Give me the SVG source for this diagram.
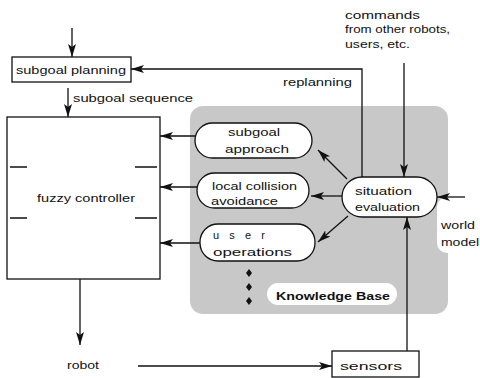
<svg xmlns="http://www.w3.org/2000/svg" width="480" height="378" viewBox="0 0 480 378">
<defs>
<style>
text{font-family:"Liberation Sans",Arial,sans-serif;font-size:11px;fill:#111}
.box{fill:#fff;stroke:#111;stroke-width:1.3}
.ln{fill:none;stroke:#111;stroke-width:1.3}
</style>
<marker id="ah" viewBox="0 0 13 10" refX="13" refY="5" markerWidth="13" markerHeight="10" markerUnits="userSpaceOnUse" orient="auto">
<path d="M0,1 L13,5 L0,9 L3,5 Z" fill="#111"/>
</marker>
</defs>
<rect width="480" height="378" fill="#fff"/>
<g id="knowledge-base">
<rect x="190" y="106" width="258" height="208" rx="13" fill="#c8c8c8"/>
<rect x="437" y="197" width="50" height="56" rx="10" fill="#fff"/>
<rect x="267" y="283" width="130" height="22" rx="11" fill="#fff"/>
<text x="276" y="300" textLength="114" lengthAdjust="spacingAndGlyphs" font-weight="bold">Knowledge Base</text>
<g fill="#111">
<path d="M249,269 L252,273 L249,277 L246,273 Z"/>
<path d="M249,283 L252,287 L249,291 L246,287 Z"/>
<path d="M249,297 L252,301 L249,305 L246,301 Z"/>
</g>
</g>
<g id="connectors">
<path class="ln" d="M72,28 V57" marker-end="url(#ah)"/>
<path class="ln" d="M68,88 V117" marker-end="url(#ah)"/>
<path class="ln" d="M362,178 V69 H131" marker-end="url(#ah)"/>
<path class="ln" d="M404,63 V177" marker-end="url(#ah)"/>
<path class="ln" d="M196,136 H160" marker-end="url(#ah)"/>
<path class="ln" d="M197,187 H160" marker-end="url(#ah)"/>
<path class="ln" d="M200,243 H160" marker-end="url(#ah)"/>
<path class="ln" d="M347,179 L318,150" marker-end="url(#ah)"/>
<path class="ln" d="M342,196 H311" marker-end="url(#ah)"/>
<path class="ln" d="M348,216 L318,242" marker-end="url(#ah)"/>
<path class="ln" d="M465,197 H437" marker-end="url(#ah)"/>
<path class="ln" d="M407,351 V217" marker-end="url(#ah)"/>
<path class="ln" d="M80,279 V345" marker-end="url(#ah)"/>
<path class="ln" d="M138,366 H332" marker-end="url(#ah)"/>
</g>
<g id="subgoal-planning">
<rect class="box" x="12" y="57" width="119" height="25"/>
<text x="16" y="74" textLength="110" lengthAdjust="spacingAndGlyphs">subgoal planning</text>
</g>
<text x="73" y="102" textLength="120" lengthAdjust="spacingAndGlyphs">subgoal sequence</text>
<text x="283" y="86" textLength="69" lengthAdjust="spacingAndGlyphs">replanning</text>
<g id="commands-label">
<text x="345" y="19" textLength="75" lengthAdjust="spacingAndGlyphs">commands</text>
<text x="345" y="33" textLength="105" lengthAdjust="spacingAndGlyphs">from other robots,</text>
<text x="345" y="48" textLength="65" lengthAdjust="spacingAndGlyphs">users, etc.</text>
</g>
<g id="fuzzy-controller">
<rect class="box" x="7" y="117" width="153" height="162"/>
<path class="ln" d="M10,167 H27 M10,218 H27 M135,167 H157 M135,218 H157"/>
<text x="37" y="202" textLength="98" lengthAdjust="spacingAndGlyphs">fuzzy controller</text>
</g>
<g id="subgoal-approach">
<rect class="box" x="195" y="123" width="117" height="35" rx="17.5"/>
<text x="228" y="136" textLength="52" lengthAdjust="spacingAndGlyphs">subgoal</text>
<text x="225" y="153" textLength="64" lengthAdjust="spacingAndGlyphs">approach</text>
</g>
<g id="local-collision-avoidance">
<rect class="box" x="197" y="173" width="112" height="35" rx="17.5"/>
<text x="212" y="190" textLength="85" lengthAdjust="spacingAndGlyphs">local collision</text>
<text x="211" y="205" textLength="67" lengthAdjust="spacingAndGlyphs">avoidance</text>
</g>
<g id="user-operations">
<rect class="box" x="200" y="224" width="115" height="37" rx="18"/>
<text x="213" y="239" textLength="52" lengthAdjust="spacing">u s e r</text>
<text x="213" y="256" textLength="79" lengthAdjust="spacingAndGlyphs">operations</text>
</g>
<g id="situation-evaluation">
<rect class="box" x="342" y="177" width="95" height="40" rx="20"/>
<text x="355" y="195" textLength="57" lengthAdjust="spacingAndGlyphs">situation</text>
<text x="355" y="211" textLength="65" lengthAdjust="spacingAndGlyphs">evaluation</text>
</g>
<g id="world-model">
<text x="441" y="229" textLength="34" lengthAdjust="spacingAndGlyphs">world</text>
<text x="441" y="246" textLength="38" lengthAdjust="spacingAndGlyphs">model</text>
</g>
<g id="robot">
<text x="67" y="369" textLength="32" lengthAdjust="spacingAndGlyphs">robot</text>
</g>
<g id="sensors">
<rect class="box" x="332" y="351" width="87" height="26"/>
<text x="340" y="370" textLength="62" lengthAdjust="spacingAndGlyphs">sensors</text>
</g>
</svg>
